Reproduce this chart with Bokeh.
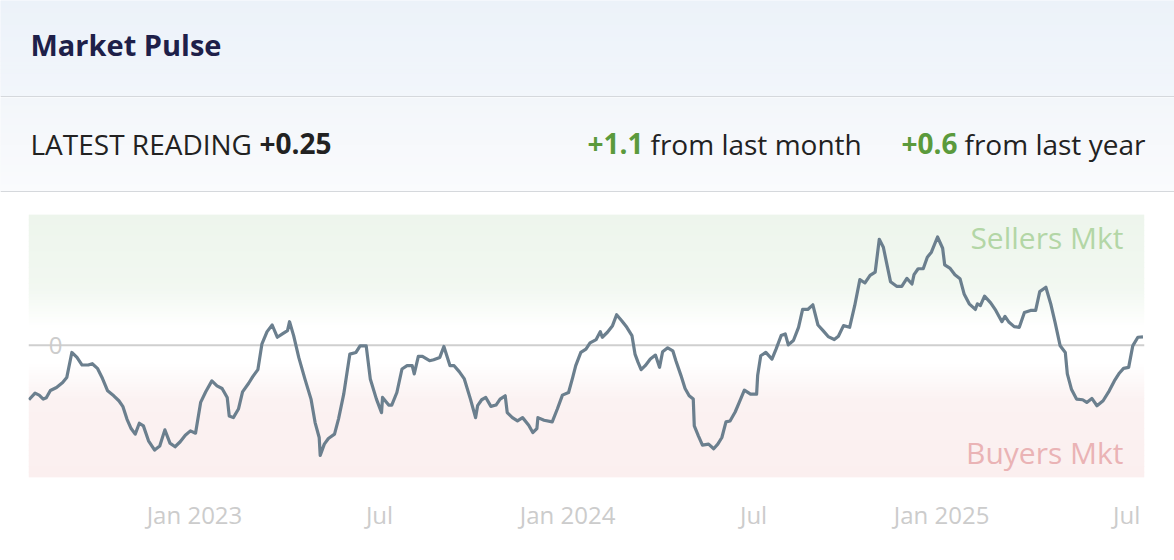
import pandas as pd
from bokeh.plotting import figure
from bokeh.models import Range1d, Span, BoxAnnotation, FixedTicker
from bokeh.layouts import column
from bokeh.core.properties import value
from bokeh.embed import file_html
from bokeh.resources import INLINE

# ---------------- data ----------------
title_text = "Market Pulse"
latest_label = "LATEST READING"
latest_value = "+0.25"
month_change = "+1.1"
month_label = "from last month"
year_change = "+0.6"
year_label = "from last year"
zone_labels = ["Sellers Mkt", "Buyers Mkt"]

base_date = "2023-01-01"
day_offsets = [
    -162, -156, -152, -148, -145, -141, -135, -129, -125, -120,
    -115, -110, -104, -100, -95, -90, -85, -79, -74, -70,
    -66, -62, -58, -54, -50, -45, -39, -34, -29, -24,
    -19, -14, -9, -4, 1, 6, 11, 17, 22, 27,
    32, 34, 38, 43, 47, 53, 57, 62, 66, 71,
    76, 81, 86, 91, 93, 97, 102, 108, 114, 118,
    122, 123, 127, 131, 137, 141, 146, 152, 158, 162,
    168, 172, 178, 183, 184, 190, 193, 198, 203, 208,
    213, 215, 219, 223, 230, 234, 240, 244, 250, 254,
    259, 264, 270, 275, 277, 281, 285, 290, 295, 299,
    304, 306, 311, 316, 321, 327, 331, 335, 336, 342,
    350, 355, 360, 366, 370, 373, 378, 383, 387, 393,
    397, 399, 404, 409, 413, 418, 423, 428, 431, 434,
    437, 441, 446, 451, 455, 458, 463, 468, 471, 476,
    480, 484, 488, 489, 493, 497, 503, 508, 512, 516,
    520, 524, 529, 533, 538, 544, 550, 551, 554, 559,
    565, 569, 574, 578, 581, 586, 591, 595, 600, 605,
    610, 615, 620, 626, 630, 635, 641, 646, 651, 656,
    661, 666, 670, 674, 677, 681, 687, 692, 697, 702,
    704, 708, 713, 717, 721, 727, 732, 734, 739, 744,
    749, 753, 758, 764, 766, 769, 773, 779, 784, 790,
    793, 797, 802, 807, 812, 818, 823, 827, 833, 838,
    842, 847, 852, 854, 858, 863, 869, 873, 878, 883,
    889, 895, 900, 905, 909, 914, 918, 923, 928,
]
pulse_values = [
    -1.65, -1.45, -1.51, -1.63, -1.59, -1.37, -1.28, -1.13, -0.98, -0.22,
    -0.37, -0.60, -0.60, -0.56, -0.70, -1.01, -1.38, -1.53, -1.68, -1.86,
    -2.24, -2.52, -2.69, -2.36, -2.44, -2.89, -3.17, -3.05, -2.56, -2.96,
    -3.07, -2.92, -2.72, -2.59, -2.66, -1.73, -1.41, -1.08, -1.23, -1.31,
    -1.58, -2.14, -2.19, -1.93, -1.41, -1.15, -0.95, -0.74, 0.04, 0.41,
    0.61, 0.24, 0.34, 0.44, 0.71, 0.29, -0.37, -1.02, -1.63, -2.34,
    -2.79, -3.33, -2.99, -2.82, -2.69, -2.22, -1.48, -0.27, -0.22, -0.02,
    -0.02, -1.02, -1.63, -2.04, -1.58, -1.81, -1.81, -1.43, -0.72, -0.62,
    -0.62, -0.87, -0.34, -0.34, -0.47, -0.44, -0.37, -0.04, -0.62, -0.62,
    -0.80, -1.02, -1.63, -2.19, -1.83, -1.65, -1.58, -1.85, -1.81, -1.63,
    -1.53, -2.04, -2.19, -2.29, -2.19, -2.42, -2.64, -2.52, -2.19, -2.27,
    -2.32, -1.93, -1.51, -1.43, -0.98, -0.62, -0.22, -0.12, 0.07, 0.17,
    0.41, 0.24, 0.39, 0.59, 0.92, 0.74, 0.54, 0.29, -0.27, -0.52,
    -0.74, -0.62, -0.42, -0.30, -0.67, -0.20, -0.08, -0.17, -0.47, -0.92,
    -1.31, -1.53, -1.63, -2.44, -2.74, -3.02, -2.99, -3.13, -2.99, -2.79,
    -2.32, -2.29, -2.02, -1.73, -1.36, -1.48, -1.48, -0.92, -0.32, -0.22,
    -0.42, -0.12, 0.29, 0.34, 0.01, 0.14, 0.54, 1.08, 1.08, 1.22,
    0.61, 0.44, 0.26, 0.17, 0.27, 0.59, 0.54, 1.20, 1.98, 1.88,
    2.11, 2.21, 3.20, 2.96, 2.51, 1.92, 1.78, 1.78, 2.02, 1.85,
    2.13, 2.31, 2.31, 2.66, 2.81, 3.27, 2.93, 2.43, 2.33, 2.13,
    2.01, 1.55, 1.25, 1.08, 1.25, 1.20, 1.48, 1.28, 1.05, 0.71,
    0.87, 0.69, 0.56, 0.54, 0.99, 1.05, 1.05, 1.62, 1.75, 1.22,
    0.69, -0.02, -0.22, -0.87, -1.33, -1.63, -1.65, -1.73, -1.61, -1.83,
    -1.68, -1.38, -1.08, -0.84, -0.70, -0.67, -0.02, 0.24, 0.25,
]
tick_dates = ["2023-01-01", "2023-07-01", "2024-01-01", "2024-07-01", "2025-01-01", "2025-07-01"]
tick_labels = ["Jan 2023", "Jul", "Jan 2024", "Jul", "Jan 2025", "Jul"]
y_tick_values = [0]
y_tick_labels = ["0"]

# ---------------- styling ----------------
FONT = value("Open Sans")
W = 1174
HEADER_H = 97
STATS_H = 95
CHART_H = 560 - HEADER_H - STATS_H
SEP = "#d5d8dc"


def mix(c1, c2, t):
    return "#%02x%02x%02x" % tuple(round(a + (b - a) * t) for a, b in zip(c1, c2))


def band_fig(h, c_top, c_bot):
    f = figure(width=W, height=h, x_range=Range1d(0, W), y_range=Range1d(h, 0),
               x_axis_location=None, y_axis_location=None, min_border=0,
               output_backend="svg", toolbar_location=None)
    f.frame_align = False
    f.grid.visible = False
    f.outline_line_color = None
    f.background_fill_color = mix(c_top, c_bot, 0.5)
    f.border_fill_color = "#ffffff"
    n = 24
    tops = [h * i / n for i in range(n)]
    bots = [h * (i + 1) / n + 0.6 for i in range(n)]
    cols = [mix(c_top, c_bot, (i + 0.5) / n) for i in range(n)]
    f.quad(left=0, right=W, top=tops, bottom=bots, fill_color=cols, line_color=None)
    f.quad(left=0, right=W, top=h - 1.5, bottom=h, fill_color=SEP, line_color=None)
    return f


# header
header = band_fig(HEADER_H, (236, 242, 249), (242, 246, 251))
header.text(x=[30], y=[44], text=[title_text], text_font=FONT, text_font_size="29px",
            text_font_style="bold", text_color="#1e2049", text_baseline="middle")

# stats row (row centre within this band)
stats = band_fig(STATS_H, (243, 246, 250), (250, 251, 253))
common = dict(text_font=FONT, text_font_size="28px", text_baseline="middle")
ys = [46]
stats.text(x=[30], y=ys, text=[latest_label], text_color="#222222", **common)
stats.text(x=[259], y=ys, text=[latest_value], text_color="#222222", text_font_style="bold", **common)
stats.text(x=[587], y=ys, text=[month_change], text_color="#5b9a3c", text_font_style="bold", **common)
stats.text(x=[650], y=ys, text=[month_label], text_color="#222222", **common)
stats.text(x=[901], y=ys, text=[year_change], text_color="#5b9a3c", text_font_style="bold", **common)
stats.text(x=[964], y=ys, text=[year_label], text_color="#222222", **common)

# chart
base = pd.Timestamp(base_date)
dates = base + pd.to_timedelta(day_offsets, unit="D")
x_start = dates[0] - pd.Timedelta(hours=10)
x_end = dates[-1] + pd.Timedelta(hours=36)
y_lo, y_hi = -4.0, 3.95

p = figure(width=W, height=CHART_H, x_axis_type="datetime",
           x_range=Range1d(x_start, x_end), y_range=Range1d(y_lo, y_hi),
           y_axis_location=None, min_border_left=28, min_border_right=30,
           min_border_top=22, min_border_bottom=83,
           output_backend="svg", toolbar_location=None)
p.frame_align = False
p.grid.visible = False
p.outline_line_color = None
p.background_fill_color = "#ffffff"
p.border_fill_color = "#ffffff"

# gradient background: green (sellers) above, pink (buyers) below
green_top, green_mid, white = (237, 245, 236), (242, 248, 241), (255, 255, 255)
pink_mid, pink_bot = (251, 242, 242), (251, 239, 239)
stops = [(y_hi, green_top), (1.7, green_mid), (0.5, white), (-0.5, white), (-1.7, pink_mid), (y_lo, pink_bot)]
for (ya, ca), (yb, cb) in zip(stops[:-1], stops[1:]):
    n = 14
    for i in range(n):
        t0 = ya + (yb - ya) * i / n
        t1 = ya + (yb - ya) * (i + 1) / n
        col = mix(ca, cb, (i + 0.5) / n)
        p.add_layout(BoxAnnotation(top=max(t0, t1) + 0.01, bottom=min(t0, t1) - 0.01,
                                   fill_color=col, fill_alpha=1.0, line_alpha=0,
                                   level="underlay"))

p.add_layout(Span(location=y_tick_values[0], dimension="width", line_color="#cfcfcf",
                  line_width=2, level="underlay"))

p.line(x=dates, y=pulse_values, line_color="#6b7f8e", line_width=3.2, line_join="round")

# y tick label drawn inside the plot
p.text(x=[x_start], y=y_tick_values, text=y_tick_labels, x_offset=27, text_align="center",
       text_baseline="middle", text_font=FONT, text_font_size="24px", text_color="#cccccc")

# zone labels
p.text(x=[x_end], y=[y_hi], text=[zone_labels[0]], x_offset=-21, y_offset=23,
       text_align="right", text_baseline="middle", text_font=FONT,
       text_font_size="30px", text_color="#b3d6a6")
p.text(x=[x_end], y=[y_lo], text=[zone_labels[1]], x_offset=-21, y_offset=-25,
       text_align="right", text_baseline="middle", text_font=FONT,
       text_font_size="30px", text_color="#eab3b5")

tick_ms = [int(pd.Timestamp(d).value // 10**6) for d in tick_dates]
p.xaxis.ticker = FixedTicker(ticks=tick_ms)
p.xaxis.major_label_overrides = {ms: lab for ms, lab in zip(tick_ms, tick_labels)}
p.xaxis.axis_line_color = None
p.xaxis.major_tick_line_color = None
p.xaxis.minor_tick_line_color = None
p.xaxis.major_tick_out = 0
p.xaxis.major_tick_in = 0
p.xaxis.major_label_standoff = 20
p.xaxis.major_label_text_font = "Open Sans"
p.xaxis.major_label_text_font_size = "24px"
p.xaxis.major_label_text_color = "#cccccc"

layout = column(header, stats, p, spacing=0)

open("out.html", "w").write(file_html(layout, INLINE))
